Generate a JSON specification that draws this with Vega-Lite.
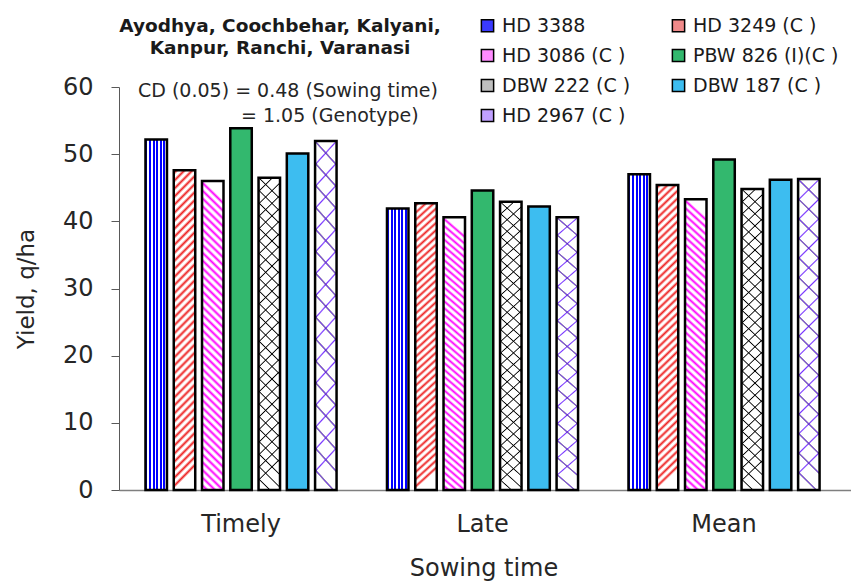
{
 "$schema": "https://vega.github.io/schema/vega-lite/v6.json",
 "width": 732,
 "height": 403,
 "autosize": "none",
 "padding": {"left": 119, "top": 87, "right": 0, "bottom": 93},
 "background": "white",
 "config": {"view": {"stroke": null}, "font": "DejaVu Sans"},
 "layer": [
  {
   "data": {"values": [
    {"time": "Timely", "genotype": "HD 3388", "yield": 52.2},
    {"time": "Timely", "genotype": "HD 3249 (C )", "yield": 47.6},
    {"time": "Timely", "genotype": "HD 3086 (C )", "yield": 46.0},
    {"time": "Timely", "genotype": "PBW 826 (I)(C )", "yield": 53.85},
    {"time": "Timely", "genotype": "DBW 222 (C )", "yield": 46.5},
    {"time": "Timely", "genotype": "DBW 187 (C )", "yield": 50.1},
    {"time": "Timely", "genotype": "HD 2967 (C )", "yield": 51.95},
    {"time": "Late", "genotype": "HD 3388", "yield": 41.9},
    {"time": "Late", "genotype": "HD 3249 (C )", "yield": 42.7},
    {"time": "Late", "genotype": "HD 3086 (C )", "yield": 40.6},
    {"time": "Late", "genotype": "PBW 826 (I)(C )", "yield": 44.6},
    {"time": "Late", "genotype": "DBW 222 (C )", "yield": 42.9},
    {"time": "Late", "genotype": "DBW 187 (C )", "yield": 42.2},
    {"time": "Late", "genotype": "HD 2967 (C )", "yield": 40.6},
    {"time": "Mean", "genotype": "HD 3388", "yield": 47.0},
    {"time": "Mean", "genotype": "HD 3249 (C )", "yield": 45.4},
    {"time": "Mean", "genotype": "HD 3086 (C )", "yield": 43.3},
    {"time": "Mean", "genotype": "PBW 826 (I)(C )", "yield": 49.2},
    {"time": "Mean", "genotype": "DBW 222 (C )", "yield": 44.8},
    {"time": "Mean", "genotype": "DBW 187 (C )", "yield": 46.2},
    {"time": "Mean", "genotype": "HD 2967 (C )", "yield": 46.3}
   ]},
   "encoding": {
    "x": {"field": "time", "type": "nominal", "sort": ["Timely", "Late", "Mean"],
      "scale": {"paddingInner": 0, "paddingOuter": 0.0155, "align": 0.17},
      "axis": {"title": "Sowing time", "labelAngle": 0, "labelFontSize": 24, "labelColor": "#262626", "labelBaseline": "alphabetic", "labelPadding": 41, "ticks": false, "tickSize": 0, "domainColor": "#7f7f7f", "domainWidth": 1.5, "titleFontSize": 24, "titleFontWeight": "normal", "titleColor": "#262626", "titleX": 364.5, "titleY": 85, "titleBaseline": "alphabetic", "titleAlign": "center"}},
    "xOffset": {"field": "genotype", "type": "nominal", "sort": ["HD 3388", "HD 3249 (C )", "HD 3086 (C )", "PBW 826 (I)(C )", "DBW 222 (C )", "DBW 187 (C )", "HD 2967 (C )"],
      "scale": {"paddingInner": 0.24, "paddingOuter": 0.892}},
    "y": {"field": "yield", "type": "quantitative", "scale": {"domain": [0, 60], "nice": false},
      "axis": {"title": "Yield, q/ha", "values": [0, 5, 10, 15, 20, 25, 30, 35, 40, 45, 50, 55, 60], "labelExpr": "datum.value % 10 === 0 ? datum.label : ''", "labelOverlap": false, "labelFontSize": 24, "labelColor": "#262626", "labelPadding": 18, "tickSize": 8, "tickColor": "#595959", "domainColor": "#595959", "grid": false, "titleFontSize": 23, "titleFontWeight": "normal", "titleColor": "#262626", "titleAngle": 270, "titleX": -86, "titleY": 201.5, "titleAlign": "center", "titleBaseline": "alphabetic"}}
   },
   "layer": [
    {
     "mark": {"type": "bar"},
     "encoding": {
      "fill": {"field": "genotype", "type": "nominal",
       "scale": {"domain": ["HD 3388", "HD 3249 (C )", "HD 3086 (C )", "PBW 826 (I)(C )", "DBW 222 (C )", "DBW 187 (C )", "HD 2967 (C )"],
                 "range": ["#3a3aff", "#f08a8a", "#ff8cff", "#33b86e", "#bfbfbf", "#3dbdf0", "#c0a0ff"]},
       "legend": {"title": null, "orient": "none", "direction": "horizontal", "legendX": 359, "legendY": -71, "columns": 2, "symbolType": "square", "symbolSize": 150, "symbolStrokeColor": "#000", "symbolStrokeWidth": 1.5, "labelFontSize": 19, "labelColor": "#1a1a1a", "labelOffset": 5, "rowPadding": 10, "columnPadding": 38, "padding": 0, "labelLimit": 300}}
     }
    },
    {
     "mark": {"type": "bar"},
     "encoding": {
      "fill": {"condition": [
        {"test": "datum.genotype === 'HD 3388'", "value": {"gradient": "linear", "x1": 0, "y1": 0, "x2": 1, "y2": 0, "stops": [
          {"offset": 0, "color": "#00f"}, {"offset": 0.09, "color": "#00f"}, {"offset": 0.09, "color": "#fff"}, {"offset": 0.167, "color": "#fff"},
          {"offset": 0.167, "color": "#00f"}, {"offset": 0.257, "color": "#00f"}, {"offset": 0.257, "color": "#fff"}, {"offset": 0.333, "color": "#fff"},
          {"offset": 0.333, "color": "#00f"}, {"offset": 0.423, "color": "#00f"}, {"offset": 0.423, "color": "#fff"}, {"offset": 0.5, "color": "#fff"},
          {"offset": 0.5, "color": "#00f"}, {"offset": 0.59, "color": "#00f"}, {"offset": 0.59, "color": "#fff"}, {"offset": 0.667, "color": "#fff"},
          {"offset": 0.667, "color": "#00f"}, {"offset": 0.757, "color": "#00f"}, {"offset": 0.757, "color": "#fff"}, {"offset": 0.833, "color": "#fff"},
          {"offset": 0.833, "color": "#00f"}, {"offset": 0.923, "color": "#00f"}, {"offset": 0.923, "color": "#fff"}, {"offset": 1, "color": "#fff"}]}},
        {"test": "datum.genotype === 'HD 3249 (C )'", "value": {"gradient": "linear", "x1": 0, "y1": 0, "x2": 0.068, "y2": 1, "stops": [
          {"offset": 0, "color": "#fff"}, {"offset": 0.009, "color": "#e22"}, {"offset": 0.018, "color": "#fff"},
          {"offset": 0.025, "color": "#fff"}, {"offset": 0.034, "color": "#e22"}, {"offset": 0.043, "color": "#fff"},
          {"offset": 0.05, "color": "#fff"}, {"offset": 0.059, "color": "#e22"}, {"offset": 0.068, "color": "#fff"},
          {"offset": 0.075, "color": "#fff"}, {"offset": 0.084, "color": "#e22"}, {"offset": 0.093, "color": "#fff"},
          {"offset": 0.1, "color": "#fff"}, {"offset": 0.109, "color": "#e22"}, {"offset": 0.118, "color": "#fff"},
          {"offset": 0.125, "color": "#fff"}, {"offset": 0.134, "color": "#e22"}, {"offset": 0.143, "color": "#fff"},
          {"offset": 0.15, "color": "#fff"}, {"offset": 0.159, "color": "#e22"}, {"offset": 0.168, "color": "#fff"},
          {"offset": 0.175, "color": "#fff"}, {"offset": 0.184, "color": "#e22"}, {"offset": 0.193, "color": "#fff"},
          {"offset": 0.2, "color": "#fff"}, {"offset": 0.209, "color": "#e22"}, {"offset": 0.218, "color": "#fff"},
          {"offset": 0.225, "color": "#fff"}, {"offset": 0.234, "color": "#e22"}, {"offset": 0.243, "color": "#fff"},
          {"offset": 0.25, "color": "#fff"}, {"offset": 0.259, "color": "#e22"}, {"offset": 0.268, "color": "#fff"},
          {"offset": 0.275, "color": "#fff"}, {"offset": 0.284, "color": "#e22"}, {"offset": 0.293, "color": "#fff"},
          {"offset": 0.3, "color": "#fff"}, {"offset": 0.309, "color": "#e22"}, {"offset": 0.318, "color": "#fff"},
          {"offset": 0.325, "color": "#fff"}, {"offset": 0.334, "color": "#e22"}, {"offset": 0.343, "color": "#fff"},
          {"offset": 0.35, "color": "#fff"}, {"offset": 0.359, "color": "#e22"}, {"offset": 0.368, "color": "#fff"},
          {"offset": 0.375, "color": "#fff"}, {"offset": 0.384, "color": "#e22"}, {"offset": 0.393, "color": "#fff"},
          {"offset": 0.4, "color": "#fff"}, {"offset": 0.409, "color": "#e22"}, {"offset": 0.418, "color": "#fff"},
          {"offset": 0.425, "color": "#fff"}, {"offset": 0.434, "color": "#e22"}, {"offset": 0.443, "color": "#fff"},
          {"offset": 0.45, "color": "#fff"}, {"offset": 0.459, "color": "#e22"}, {"offset": 0.468, "color": "#fff"},
          {"offset": 0.475, "color": "#fff"}, {"offset": 0.484, "color": "#e22"}, {"offset": 0.493, "color": "#fff"},
          {"offset": 0.5, "color": "#fff"}, {"offset": 0.509, "color": "#e22"}, {"offset": 0.518, "color": "#fff"},
          {"offset": 0.525, "color": "#fff"}, {"offset": 0.534, "color": "#e22"}, {"offset": 0.543, "color": "#fff"},
          {"offset": 0.55, "color": "#fff"}, {"offset": 0.559, "color": "#e22"}, {"offset": 0.568, "color": "#fff"},
          {"offset": 0.575, "color": "#fff"}, {"offset": 0.584, "color": "#e22"}, {"offset": 0.593, "color": "#fff"},
          {"offset": 0.6, "color": "#fff"}, {"offset": 0.609, "color": "#e22"}, {"offset": 0.618, "color": "#fff"},
          {"offset": 0.625, "color": "#fff"}, {"offset": 0.634, "color": "#e22"}, {"offset": 0.643, "color": "#fff"},
          {"offset": 0.65, "color": "#fff"}, {"offset": 0.659, "color": "#e22"}, {"offset": 0.668, "color": "#fff"},
          {"offset": 0.675, "color": "#fff"}, {"offset": 0.684, "color": "#e22"}, {"offset": 0.693, "color": "#fff"},
          {"offset": 0.7, "color": "#fff"}, {"offset": 0.709, "color": "#e22"}, {"offset": 0.718, "color": "#fff"},
          {"offset": 0.725, "color": "#fff"}, {"offset": 0.734, "color": "#e22"}, {"offset": 0.743, "color": "#fff"},
          {"offset": 0.75, "color": "#fff"}, {"offset": 0.759, "color": "#e22"}, {"offset": 0.768, "color": "#fff"},
          {"offset": 0.775, "color": "#fff"}, {"offset": 0.784, "color": "#e22"}, {"offset": 0.793, "color": "#fff"},
          {"offset": 0.8, "color": "#fff"}, {"offset": 0.809, "color": "#e22"}, {"offset": 0.818, "color": "#fff"},
          {"offset": 0.825, "color": "#fff"}, {"offset": 0.834, "color": "#e22"}, {"offset": 0.843, "color": "#fff"},
          {"offset": 0.85, "color": "#fff"}, {"offset": 0.859, "color": "#e22"}, {"offset": 0.868, "color": "#fff"},
          {"offset": 0.875, "color": "#fff"}, {"offset": 0.884, "color": "#e22"}, {"offset": 0.893, "color": "#fff"},
          {"offset": 0.9, "color": "#fff"}, {"offset": 0.909, "color": "#e22"}, {"offset": 0.918, "color": "#fff"},
          {"offset": 0.925, "color": "#fff"}, {"offset": 0.934, "color": "#e22"}, {"offset": 0.943, "color": "#fff"},
          {"offset": 0.95, "color": "#fff"}, {"offset": 0.959, "color": "#e22"}, {"offset": 0.968, "color": "#fff"},
          {"offset": 0.975, "color": "#fff"}, {"offset": 0.984, "color": "#e22"}, {"offset": 0.993, "color": "#fff"}]}},
        {"test": "datum.genotype === 'HD 3086 (C )'", "value": {"gradient": "linear", "x1": 0.068, "y1": 0, "x2": 0, "y2": 1, "stops": [
          {"offset": 0, "color": "#fff"}, {"offset": 0.009, "color": "#f0f"}, {"offset": 0.018, "color": "#fff"},
          {"offset": 0.025, "color": "#fff"}, {"offset": 0.034, "color": "#f0f"}, {"offset": 0.043, "color": "#fff"},
          {"offset": 0.05, "color": "#fff"}, {"offset": 0.059, "color": "#f0f"}, {"offset": 0.068, "color": "#fff"},
          {"offset": 0.075, "color": "#fff"}, {"offset": 0.084, "color": "#f0f"}, {"offset": 0.093, "color": "#fff"},
          {"offset": 0.1, "color": "#fff"}, {"offset": 0.109, "color": "#f0f"}, {"offset": 0.118, "color": "#fff"},
          {"offset": 0.125, "color": "#fff"}, {"offset": 0.134, "color": "#f0f"}, {"offset": 0.143, "color": "#fff"},
          {"offset": 0.15, "color": "#fff"}, {"offset": 0.159, "color": "#f0f"}, {"offset": 0.168, "color": "#fff"},
          {"offset": 0.175, "color": "#fff"}, {"offset": 0.184, "color": "#f0f"}, {"offset": 0.193, "color": "#fff"},
          {"offset": 0.2, "color": "#fff"}, {"offset": 0.209, "color": "#f0f"}, {"offset": 0.218, "color": "#fff"},
          {"offset": 0.225, "color": "#fff"}, {"offset": 0.234, "color": "#f0f"}, {"offset": 0.243, "color": "#fff"},
          {"offset": 0.25, "color": "#fff"}, {"offset": 0.259, "color": "#f0f"}, {"offset": 0.268, "color": "#fff"},
          {"offset": 0.275, "color": "#fff"}, {"offset": 0.284, "color": "#f0f"}, {"offset": 0.293, "color": "#fff"},
          {"offset": 0.3, "color": "#fff"}, {"offset": 0.309, "color": "#f0f"}, {"offset": 0.318, "color": "#fff"},
          {"offset": 0.325, "color": "#fff"}, {"offset": 0.334, "color": "#f0f"}, {"offset": 0.343, "color": "#fff"},
          {"offset": 0.35, "color": "#fff"}, {"offset": 0.359, "color": "#f0f"}, {"offset": 0.368, "color": "#fff"},
          {"offset": 0.375, "color": "#fff"}, {"offset": 0.384, "color": "#f0f"}, {"offset": 0.393, "color": "#fff"},
          {"offset": 0.4, "color": "#fff"}, {"offset": 0.409, "color": "#f0f"}, {"offset": 0.418, "color": "#fff"},
          {"offset": 0.425, "color": "#fff"}, {"offset": 0.434, "color": "#f0f"}, {"offset": 0.443, "color": "#fff"},
          {"offset": 0.45, "color": "#fff"}, {"offset": 0.459, "color": "#f0f"}, {"offset": 0.468, "color": "#fff"},
          {"offset": 0.475, "color": "#fff"}, {"offset": 0.484, "color": "#f0f"}, {"offset": 0.493, "color": "#fff"},
          {"offset": 0.5, "color": "#fff"}, {"offset": 0.509, "color": "#f0f"}, {"offset": 0.518, "color": "#fff"},
          {"offset": 0.525, "color": "#fff"}, {"offset": 0.534, "color": "#f0f"}, {"offset": 0.543, "color": "#fff"},
          {"offset": 0.55, "color": "#fff"}, {"offset": 0.559, "color": "#f0f"}, {"offset": 0.568, "color": "#fff"},
          {"offset": 0.575, "color": "#fff"}, {"offset": 0.584, "color": "#f0f"}, {"offset": 0.593, "color": "#fff"},
          {"offset": 0.6, "color": "#fff"}, {"offset": 0.609, "color": "#f0f"}, {"offset": 0.618, "color": "#fff"},
          {"offset": 0.625, "color": "#fff"}, {"offset": 0.634, "color": "#f0f"}, {"offset": 0.643, "color": "#fff"},
          {"offset": 0.65, "color": "#fff"}, {"offset": 0.659, "color": "#f0f"}, {"offset": 0.668, "color": "#fff"},
          {"offset": 0.675, "color": "#fff"}, {"offset": 0.684, "color": "#f0f"}, {"offset": 0.693, "color": "#fff"},
          {"offset": 0.7, "color": "#fff"}, {"offset": 0.709, "color": "#f0f"}, {"offset": 0.718, "color": "#fff"},
          {"offset": 0.725, "color": "#fff"}, {"offset": 0.734, "color": "#f0f"}, {"offset": 0.743, "color": "#fff"},
          {"offset": 0.75, "color": "#fff"}, {"offset": 0.759, "color": "#f0f"}, {"offset": 0.768, "color": "#fff"},
          {"offset": 0.775, "color": "#fff"}, {"offset": 0.784, "color": "#f0f"}, {"offset": 0.793, "color": "#fff"},
          {"offset": 0.8, "color": "#fff"}, {"offset": 0.809, "color": "#f0f"}, {"offset": 0.818, "color": "#fff"},
          {"offset": 0.825, "color": "#fff"}, {"offset": 0.834, "color": "#f0f"}, {"offset": 0.843, "color": "#fff"},
          {"offset": 0.85, "color": "#fff"}, {"offset": 0.859, "color": "#f0f"}, {"offset": 0.868, "color": "#fff"},
          {"offset": 0.875, "color": "#fff"}, {"offset": 0.884, "color": "#f0f"}, {"offset": 0.893, "color": "#fff"},
          {"offset": 0.9, "color": "#fff"}, {"offset": 0.909, "color": "#f0f"}, {"offset": 0.918, "color": "#fff"},
          {"offset": 0.925, "color": "#fff"}, {"offset": 0.934, "color": "#f0f"}, {"offset": 0.943, "color": "#fff"},
          {"offset": 0.95, "color": "#fff"}, {"offset": 0.959, "color": "#f0f"}, {"offset": 0.968, "color": "#fff"},
          {"offset": 0.975, "color": "#fff"}, {"offset": 0.984, "color": "#f0f"}, {"offset": 0.993, "color": "#fff"}]}},
        {"test": "datum.genotype === 'DBW 222 (C )'", "value": {"gradient": "linear", "x1": 0, "y1": 0, "x2": 0.068, "y2": 1, "stops": [
          {"offset": 0, "color": "#fff"}, {"offset": 0.004, "color": "#000"}, {"offset": 0.008, "color": "#fff"},
          {"offset": 0.04, "color": "#fff"}, {"offset": 0.044, "color": "#000"}, {"offset": 0.048, "color": "#fff"},
          {"offset": 0.08, "color": "#fff"}, {"offset": 0.084, "color": "#000"}, {"offset": 0.088, "color": "#fff"},
          {"offset": 0.12, "color": "#fff"}, {"offset": 0.124, "color": "#000"}, {"offset": 0.128, "color": "#fff"},
          {"offset": 0.16, "color": "#fff"}, {"offset": 0.164, "color": "#000"}, {"offset": 0.168, "color": "#fff"},
          {"offset": 0.2, "color": "#fff"}, {"offset": 0.204, "color": "#000"}, {"offset": 0.208, "color": "#fff"},
          {"offset": 0.24, "color": "#fff"}, {"offset": 0.244, "color": "#000"}, {"offset": 0.248, "color": "#fff"},
          {"offset": 0.28, "color": "#fff"}, {"offset": 0.284, "color": "#000"}, {"offset": 0.288, "color": "#fff"},
          {"offset": 0.32, "color": "#fff"}, {"offset": 0.324, "color": "#000"}, {"offset": 0.328, "color": "#fff"},
          {"offset": 0.36, "color": "#fff"}, {"offset": 0.364, "color": "#000"}, {"offset": 0.368, "color": "#fff"},
          {"offset": 0.4, "color": "#fff"}, {"offset": 0.404, "color": "#000"}, {"offset": 0.408, "color": "#fff"},
          {"offset": 0.44, "color": "#fff"}, {"offset": 0.444, "color": "#000"}, {"offset": 0.448, "color": "#fff"},
          {"offset": 0.48, "color": "#fff"}, {"offset": 0.484, "color": "#000"}, {"offset": 0.488, "color": "#fff"},
          {"offset": 0.52, "color": "#fff"}, {"offset": 0.524, "color": "#000"}, {"offset": 0.528, "color": "#fff"},
          {"offset": 0.56, "color": "#fff"}, {"offset": 0.564, "color": "#000"}, {"offset": 0.568, "color": "#fff"},
          {"offset": 0.6, "color": "#fff"}, {"offset": 0.604, "color": "#000"}, {"offset": 0.608, "color": "#fff"},
          {"offset": 0.64, "color": "#fff"}, {"offset": 0.644, "color": "#000"}, {"offset": 0.648, "color": "#fff"},
          {"offset": 0.68, "color": "#fff"}, {"offset": 0.684, "color": "#000"}, {"offset": 0.688, "color": "#fff"},
          {"offset": 0.72, "color": "#fff"}, {"offset": 0.724, "color": "#000"}, {"offset": 0.728, "color": "#fff"},
          {"offset": 0.76, "color": "#fff"}, {"offset": 0.764, "color": "#000"}, {"offset": 0.768, "color": "#fff"},
          {"offset": 0.8, "color": "#fff"}, {"offset": 0.804, "color": "#000"}, {"offset": 0.808, "color": "#fff"},
          {"offset": 0.84, "color": "#fff"}, {"offset": 0.844, "color": "#000"}, {"offset": 0.848, "color": "#fff"},
          {"offset": 0.88, "color": "#fff"}, {"offset": 0.884, "color": "#000"}, {"offset": 0.888, "color": "#fff"},
          {"offset": 0.92, "color": "#fff"}, {"offset": 0.924, "color": "#000"}, {"offset": 0.928, "color": "#fff"},
          {"offset": 0.96, "color": "#fff"}, {"offset": 0.964, "color": "#000"}, {"offset": 0.968, "color": "#fff"}]}},
        {"test": "datum.genotype === 'HD 2967 (C )'", "value": {"gradient": "linear", "x1": 0, "y1": 0, "x2": 0.068, "y2": 1, "stops": [
          {"offset": 0, "color": "#fff"}, {"offset": 0.005, "color": "#73f"}, {"offset": 0.01, "color": "#fff"},
          {"offset": 0.0625, "color": "#fff"}, {"offset": 0.0675, "color": "#73f"}, {"offset": 0.0725, "color": "#fff"},
          {"offset": 0.125, "color": "#fff"}, {"offset": 0.13, "color": "#73f"}, {"offset": 0.135, "color": "#fff"},
          {"offset": 0.1875, "color": "#fff"}, {"offset": 0.1925, "color": "#73f"}, {"offset": 0.1975, "color": "#fff"},
          {"offset": 0.25, "color": "#fff"}, {"offset": 0.255, "color": "#73f"}, {"offset": 0.26, "color": "#fff"},
          {"offset": 0.3125, "color": "#fff"}, {"offset": 0.3175, "color": "#73f"}, {"offset": 0.3225, "color": "#fff"},
          {"offset": 0.375, "color": "#fff"}, {"offset": 0.38, "color": "#73f"}, {"offset": 0.385, "color": "#fff"},
          {"offset": 0.4375, "color": "#fff"}, {"offset": 0.4425, "color": "#73f"}, {"offset": 0.4475, "color": "#fff"},
          {"offset": 0.5, "color": "#fff"}, {"offset": 0.505, "color": "#73f"}, {"offset": 0.51, "color": "#fff"},
          {"offset": 0.5625, "color": "#fff"}, {"offset": 0.5675, "color": "#73f"}, {"offset": 0.5725, "color": "#fff"},
          {"offset": 0.625, "color": "#fff"}, {"offset": 0.63, "color": "#73f"}, {"offset": 0.635, "color": "#fff"},
          {"offset": 0.6875, "color": "#fff"}, {"offset": 0.6925, "color": "#73f"}, {"offset": 0.6975, "color": "#fff"},
          {"offset": 0.75, "color": "#fff"}, {"offset": 0.755, "color": "#73f"}, {"offset": 0.76, "color": "#fff"},
          {"offset": 0.8125, "color": "#fff"}, {"offset": 0.8175, "color": "#73f"}, {"offset": 0.8225, "color": "#fff"},
          {"offset": 0.875, "color": "#fff"}, {"offset": 0.88, "color": "#73f"}, {"offset": 0.885, "color": "#fff"},
          {"offset": 0.9375, "color": "#fff"}, {"offset": 0.9425, "color": "#73f"}, {"offset": 0.9475, "color": "#fff"}]}}
       ],
       "value": "transparent"}
     }
    },
    {
     "mark": {"type": "bar", "stroke": "#000", "strokeWidth": 2.5},
     "encoding": {
      "fill": {"condition": [
        {"test": "datum.genotype === 'DBW 222 (C )'", "value": {"gradient": "linear", "x1": 0.068, "y1": 0, "x2": 0, "y2": 1, "stops": [
          {"offset": 0, "color": "transparent"}, {"offset": 0.004, "color": "#000"}, {"offset": 0.008, "color": "transparent"},
          {"offset": 0.04, "color": "transparent"}, {"offset": 0.044, "color": "#000"}, {"offset": 0.048, "color": "transparent"},
          {"offset": 0.08, "color": "transparent"}, {"offset": 0.084, "color": "#000"}, {"offset": 0.088, "color": "transparent"},
          {"offset": 0.12, "color": "transparent"}, {"offset": 0.124, "color": "#000"}, {"offset": 0.128, "color": "transparent"},
          {"offset": 0.16, "color": "transparent"}, {"offset": 0.164, "color": "#000"}, {"offset": 0.168, "color": "transparent"},
          {"offset": 0.2, "color": "transparent"}, {"offset": 0.204, "color": "#000"}, {"offset": 0.208, "color": "transparent"},
          {"offset": 0.24, "color": "transparent"}, {"offset": 0.244, "color": "#000"}, {"offset": 0.248, "color": "transparent"},
          {"offset": 0.28, "color": "transparent"}, {"offset": 0.284, "color": "#000"}, {"offset": 0.288, "color": "transparent"},
          {"offset": 0.32, "color": "transparent"}, {"offset": 0.324, "color": "#000"}, {"offset": 0.328, "color": "transparent"},
          {"offset": 0.36, "color": "transparent"}, {"offset": 0.364, "color": "#000"}, {"offset": 0.368, "color": "transparent"},
          {"offset": 0.4, "color": "transparent"}, {"offset": 0.404, "color": "#000"}, {"offset": 0.408, "color": "transparent"},
          {"offset": 0.44, "color": "transparent"}, {"offset": 0.444, "color": "#000"}, {"offset": 0.448, "color": "transparent"},
          {"offset": 0.48, "color": "transparent"}, {"offset": 0.484, "color": "#000"}, {"offset": 0.488, "color": "transparent"},
          {"offset": 0.52, "color": "transparent"}, {"offset": 0.524, "color": "#000"}, {"offset": 0.528, "color": "transparent"},
          {"offset": 0.56, "color": "transparent"}, {"offset": 0.564, "color": "#000"}, {"offset": 0.568, "color": "transparent"},
          {"offset": 0.6, "color": "transparent"}, {"offset": 0.604, "color": "#000"}, {"offset": 0.608, "color": "transparent"},
          {"offset": 0.64, "color": "transparent"}, {"offset": 0.644, "color": "#000"}, {"offset": 0.648, "color": "transparent"},
          {"offset": 0.68, "color": "transparent"}, {"offset": 0.684, "color": "#000"}, {"offset": 0.688, "color": "transparent"},
          {"offset": 0.72, "color": "transparent"}, {"offset": 0.724, "color": "#000"}, {"offset": 0.728, "color": "transparent"},
          {"offset": 0.76, "color": "transparent"}, {"offset": 0.764, "color": "#000"}, {"offset": 0.768, "color": "transparent"},
          {"offset": 0.8, "color": "transparent"}, {"offset": 0.804, "color": "#000"}, {"offset": 0.808, "color": "transparent"},
          {"offset": 0.84, "color": "transparent"}, {"offset": 0.844, "color": "#000"}, {"offset": 0.848, "color": "transparent"},
          {"offset": 0.88, "color": "transparent"}, {"offset": 0.884, "color": "#000"}, {"offset": 0.888, "color": "transparent"},
          {"offset": 0.92, "color": "transparent"}, {"offset": 0.924, "color": "#000"}, {"offset": 0.928, "color": "transparent"},
          {"offset": 0.96, "color": "transparent"}, {"offset": 0.964, "color": "#000"}, {"offset": 0.968, "color": "transparent"}]}},
        {"test": "datum.genotype === 'HD 2967 (C )'", "value": {"gradient": "linear", "x1": 0.068, "y1": 0, "x2": 0, "y2": 1, "stops": [
          {"offset": 0, "color": "transparent"}, {"offset": 0.005, "color": "#73f"}, {"offset": 0.01, "color": "transparent"},
          {"offset": 0.0625, "color": "transparent"}, {"offset": 0.0675, "color": "#73f"}, {"offset": 0.0725, "color": "transparent"},
          {"offset": 0.125, "color": "transparent"}, {"offset": 0.13, "color": "#73f"}, {"offset": 0.135, "color": "transparent"},
          {"offset": 0.1875, "color": "transparent"}, {"offset": 0.1925, "color": "#73f"}, {"offset": 0.1975, "color": "transparent"},
          {"offset": 0.25, "color": "transparent"}, {"offset": 0.255, "color": "#73f"}, {"offset": 0.26, "color": "transparent"},
          {"offset": 0.3125, "color": "transparent"}, {"offset": 0.3175, "color": "#73f"}, {"offset": 0.3225, "color": "transparent"},
          {"offset": 0.375, "color": "transparent"}, {"offset": 0.38, "color": "#73f"}, {"offset": 0.385, "color": "transparent"},
          {"offset": 0.4375, "color": "transparent"}, {"offset": 0.4425, "color": "#73f"}, {"offset": 0.4475, "color": "transparent"},
          {"offset": 0.5, "color": "transparent"}, {"offset": 0.505, "color": "#73f"}, {"offset": 0.51, "color": "transparent"},
          {"offset": 0.5625, "color": "transparent"}, {"offset": 0.5675, "color": "#73f"}, {"offset": 0.5725, "color": "transparent"},
          {"offset": 0.625, "color": "transparent"}, {"offset": 0.63, "color": "#73f"}, {"offset": 0.635, "color": "transparent"},
          {"offset": 0.6875, "color": "transparent"}, {"offset": 0.6925, "color": "#73f"}, {"offset": 0.6975, "color": "transparent"},
          {"offset": 0.75, "color": "transparent"}, {"offset": 0.755, "color": "#73f"}, {"offset": 0.76, "color": "transparent"},
          {"offset": 0.8125, "color": "transparent"}, {"offset": 0.8175, "color": "#73f"}, {"offset": 0.8225, "color": "transparent"},
          {"offset": 0.875, "color": "transparent"}, {"offset": 0.88, "color": "#73f"}, {"offset": 0.885, "color": "transparent"},
          {"offset": 0.9375, "color": "transparent"}, {"offset": 0.9425, "color": "#73f"}, {"offset": 0.9475, "color": "transparent"}]}}
       ],
       "value": "transparent"}
     }
    }
   ]
  },
  {
   "data": {"values": [{"note": "Ayodhya, Coochbehar, Kalyani,\nKanpur, Ranchi, Varanasi"}]},
   "mark": {"type": "text", "fontSize": 18.5, "fontWeight": "bold", "align": "center", "baseline": "alphabetic", "lineBreak": "\n", "lineHeight": 22.5, "dx": 39, "color": "#1a1a1a"},
   "encoding": {
    "x": {"datum": "Timely", "type": "nominal"},
    "y": {"datum": 68.2, "type": "quantitative"},
    "text": {"field": "note"}
   }
  },
  {
   "data": {"values": [{"note": "CD (0.05) = 0.48 (Sowing time)"}]},
   "mark": {"type": "text", "fontSize": 19, "align": "left", "baseline": "alphabetic", "dx": -103, "color": "#262626"},
   "encoding": {
    "x": {"datum": "Timely", "type": "nominal"},
    "y": {"datum": 58.5, "type": "quantitative"},
    "text": {"field": "note"}
   }
  },
  {
   "data": {"values": [{"note": "= 1.05 (Genotype)"}]},
   "mark": {"type": "text", "fontSize": 19, "align": "left", "baseline": "alphabetic", "dx": 0, "color": "#262626"},
   "encoding": {
    "x": {"datum": "Timely", "type": "nominal"},
    "y": {"datum": 54.83, "type": "quantitative"},
    "text": {"field": "note"}
   }
  }
 ]
}
